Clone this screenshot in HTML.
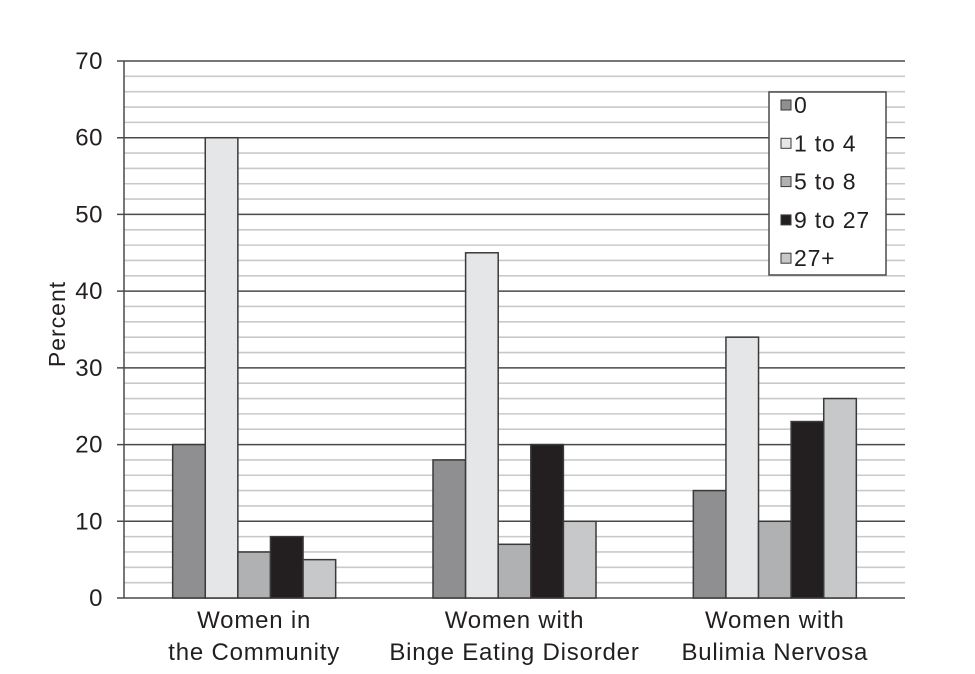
<!DOCTYPE html>
<html><head><meta charset="utf-8"><style>
html,body{margin:0;padding:0;background:#fff;}
svg{display:block;font-family:"Liberation Sans",sans-serif;}
</style></head><body>
<svg id="chart" width="975" height="674" viewBox="0 0 975 674" xmlns="http://www.w3.org/2000/svg">
<g id="grid"></g>
<g id="bars"></g>
<g id="axes"></g>
<text x="65" y="324" font-size="23" letter-spacing="1" fill="#231f20" text-anchor="middle" transform="rotate(-90 65 324)">Percent</text>
<g id="legend"></g>
</svg>
<script>
const categories = [["Women in","the Community"],["Women with","Binge Eating Disorder"],["Women with","Bulimia Nervosa"]];
const seriesNames = ["0","1 to 4","5 to 8","9 to 27","27+"];
const s0 = [20,18,14];
const s1 = [60,45,34];
const s2 = [6,7,10];
const s3 = [8,20,23];
const s4 = [5,10,26];
const yTicks = [0,10,20,30,40,50,60,70];
const series = [s0,s1,s2,s3,s4];
const colors = ["#8f8f92","#e5e6e8","#b0b1b3","#231f20","#c7c8ca"];
const NS="http://www.w3.org/2000/svg";
const X0=124,X1=905,Y0=598,Y1=61,YMAX=70;
const y = v => Y0 - v/YMAX*(Y0-Y1);
const gw=(X1-X0)/categories.length, bw=32.6;
const xb = (g,s) => X0 + gw*(g+0.5) - bw*series.length/2 + bw*s;
function mk(tag,attrs,parent){const e=document.createElementNS(NS,tag);for(const k in attrs)e.setAttribute(k,attrs[k]);parent.appendChild(e);return e;}
const grid=document.getElementById('grid'),bars=document.getElementById('bars'),axes=document.getElementById('axes'),legend=document.getElementById('legend');
for(let v=0;v<=YMAX;v+=2){
  if(v%10===0) continue;
  const l=mk('line',{x1:X0,x2:X1,y1:y(v),y2:y(v),stroke:'#c9c9c9','stroke-width':1.6},grid);
  
  
}
yTicks.forEach(v=>{
  const l=mk('line',{x1:117,x2:X1,y1:y(v),y2:y(v),stroke:'#4a4a4a','stroke-width':1.5},grid);
  
  
  const t=mk('text',{x:103,y:y(v)+8,'font-size':24,'letter-spacing':0.5,fill:'#231f20','text-anchor':'end'},axes);
  t.textContent=v;
  
  
});
series.forEach((arr,s)=>arr.forEach((v,g)=>{
  const r=mk('rect',{x:xb(g,s),y:y(v),width:bw,height:Y0-y(v),fill:colors[s],stroke:'#3a3a3a','stroke-width':1.5},bars);
  
  
}));
const ax=mk('line',{x1:X0,x2:X0,y1:Y1,y2:Y0,stroke:'#4a4a4a','stroke-width':1.5},axes);


categories.forEach((c,g)=>{
  c.forEach((line,i)=>{
    const t=mk('text',{x:X0+gw*(g+0.5),y:628+i*32,'font-size':24,'letter-spacing':0.8,fill:'#231f20','text-anchor':'middle'},axes);
    t.textContent=line;
    
    
  });
});
const box=mk('rect',{x:769,y:92,width:117,height:183,fill:'#fff',stroke:'#4a4a4a','stroke-width':1.5},legend);


seriesNames.forEach((n,i)=>{
  const cy=105+i*38.3;
  const sw=mk('rect',{x:781,y:cy-5,width:10,height:10,fill:colors[i],stroke:'#3a3a3a','stroke-width':1},legend);
  
  
  const t=mk('text',{x:794,y:cy+8,'font-size':23,'letter-spacing':0.8,fill:'#231f20'},legend);
  t.textContent=n;
  
  
});
</script>
</body></html>
